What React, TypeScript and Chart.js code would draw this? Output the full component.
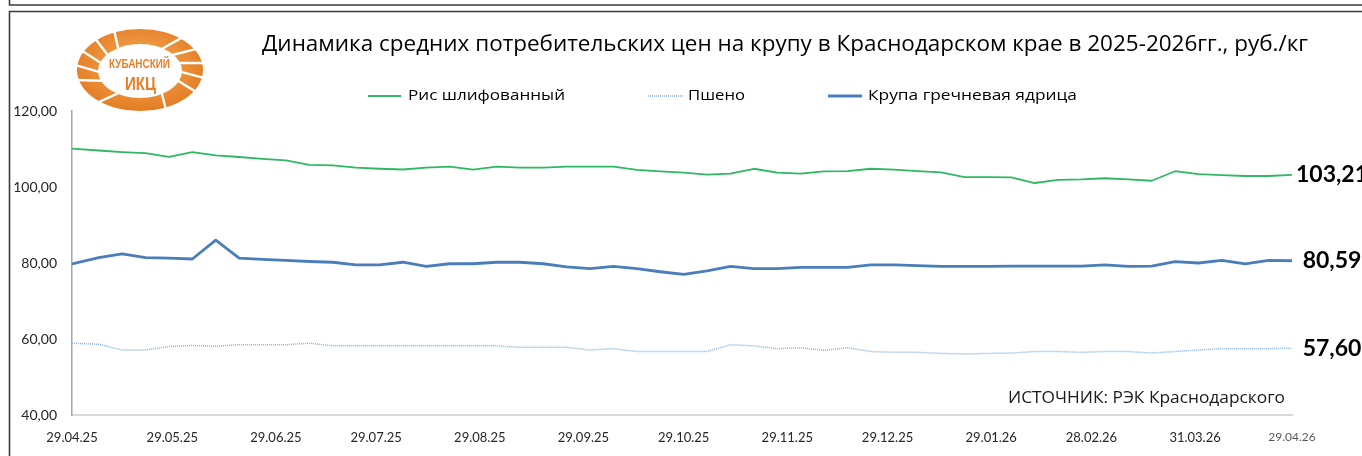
import React, { useEffect, useRef } from "react";
import { Chart, registerables } from "chart.js";

Chart.register(...registerables);

const TITLE = "Динамика средних потребительских цен на крупу в Краснодарском крае в 2025-2026гг., руб./кг";
const SOURCE = "ИСТОЧНИК: РЭК Краснодарского";
const seriesNames = ["Рис шлифованный", "Пшено", "Крупа гречневая ядрица"];

const pointDates = [
  "29.04.25", "07.05.25", "14.05.25", "21.05.25", "28.05.25",
  "04.06.25", "11.06.25", "18.06.25", "25.06.25",
  "02.07.25", "09.07.25", "16.07.25", "23.07.25", "30.07.25",
  "06.08.25", "13.08.25", "20.08.25", "27.08.25",
  "03.09.25", "10.09.25", "17.09.25", "24.09.25",
  "01.10.25", "08.10.25", "15.10.25", "22.10.25", "29.10.25",
  "05.11.25", "12.11.25", "19.11.25", "26.11.25",
  "03.12.25", "10.12.25", "17.12.25", "24.12.25", "31.12.25",
  "07.01.26", "14.01.26", "21.01.26", "28.01.26",
  "04.02.26", "11.02.26", "18.02.26", "25.02.26",
  "04.03.26", "11.03.26", "18.03.26", "25.03.26",
  "01.04.26", "08.04.26", "15.04.26", "22.04.26", "29.04.26",
];

const tickDates = [
  "29.04.25", "29.05.25", "29.06.25", "29.07.25", "29.08.25", "29.09.25", "29.10.25",
  "29.11.25", "29.12.25", "29.01.26", "28.02.26", "31.03.26", "29.04.26",
];

const yTicks = [40, 60, 80, 100, 120];

const riceValues = [
  110.1, 109.6, 109.2, 108.9, 107.9, 109.2, 108.3, 107.9, 107.4, 107.0,
  105.8, 105.7, 105.1, 104.8, 104.6, 105.1, 105.35, 104.6, 105.35, 105.1,
  105.1, 105.35, 105.35, 105.35, 104.5, 104.1, 103.8, 103.25, 103.5, 104.8,
  103.8, 103.5, 104.1, 104.2, 104.8, 104.55, 104.2, 103.85, 102.6, 102.6,
  102.55, 101.05, 101.9, 102.0, 102.3, 102.0, 101.65, 104.15, 103.4, 103.15,
  102.9, 102.9, 103.21,
];

const milletValues = [
  58.9, 58.6, 57.1, 57.1, 58.0, 58.3, 58.1, 58.5, 58.5, 58.5,
  58.9, 58.2, 58.2, 58.2, 58.2, 58.2, 58.2, 58.2, 58.2, 57.8,
  57.8, 57.8, 57.1, 57.45, 56.7, 56.7, 56.7, 56.7, 58.5, 58.2,
  57.45, 57.7, 57.0, 57.7, 56.7, 56.5, 56.5, 56.2, 56.05, 56.2,
  56.3, 56.7, 56.7, 56.5, 56.7, 56.7, 56.3, 56.7, 57.1, 57.45,
  57.45, 57.45, 57.6,
];

const buckwheatValues = [
  79.75, 81.4, 82.4, 81.4, 81.3, 81.05, 86.0, 81.3, 80.95, 80.7,
  80.4, 80.2, 79.5, 79.5, 80.2, 79.1, 79.8, 79.8, 80.2, 80.2,
  79.8, 79.0, 78.5, 79.1, 78.5, 77.7, 77.0, 77.9, 79.1, 78.5,
  78.5, 78.85, 78.85, 78.85, 79.5, 79.5, 79.3, 79.1, 79.1, 79.1,
  79.2, 79.2, 79.2, 79.2, 79.5, 79.1, 79.2, 80.35, 80.0, 80.7,
  79.75, 80.7, 80.59,
];

const colors = {
  rice: "#2EB863",
  millet: "#86B3DF",
  buckwheat: "#4A7EBB",
};

const SANS = "'Open Sans', 'Noto Sans', sans-serif";
const NUM = "Lato, 'Open Sans', sans-serif";

function dayOffset(s: string): number {
  const [d, m, y] = s.split(".").map(Number);
  return Math.round((Date.UTC(2000 + y, m - 1, d) - Date.UTC(2025, 3, 29)) / 86400000);
}

const tickDays = tickDates.map(dayOffset);
const labelByDay: Record<number, string> = {};
tickDates.forEach((t, i) => (labelByDay[tickDays[i]] = t));

function fmt(v: number): string {
  return v.toFixed(2).replace(".", ",");
}

function fitText(ctx: CanvasRenderingContext2D, text: string, x: number, y: number, width: number, font: string, color: string) {
  ctx.save();
  ctx.font = font;
  ctx.fillStyle = color;
  ctx.textAlign = "left";
  ctx.textBaseline = "middle";
  const w = ctx.measureText(text).width;
  ctx.translate(x, y);
  ctx.scale(width / w, 1);
  ctx.fillText(text, 0, 0);
  ctx.restore();
}

const decorPlugin = {
  id: "decor",
  beforeDraw(chart: any) {
    const ctx = chart.ctx as CanvasRenderingContext2D;
    ctx.save();
    ctx.fillStyle = "#ffffff";
    ctx.fillRect(0, 0, chart.width, chart.height);
    ctx.strokeStyle = "#3c3c3c";
    ctx.lineWidth = 1.6;
    ctx.beginPath();
    ctx.moveTo(9.5, 0);
    ctx.lineTo(9.5, 5);
    ctx.lineTo(chart.width, 5);
    ctx.moveTo(9.5, chart.height);
    ctx.lineTo(9.5, 11.5);
    ctx.lineTo(chart.width, 11.5);
    ctx.stroke();
    ctx.restore();
  },
  afterDraw(chart: any) {
    const ctx = chart.ctx as CanvasRenderingContext2D;
    fitText(ctx, TITLE, 262, 45, 1046, `21px ${SANS}`, "#000000");
    const legend = [
      { x0: 368, x1: 401, tx: 408, tw: 157, color: colors.rice, width: 1.8, dash: [] as number[] },
      { x0: 648, x1: 683, tx: 688, tw: 57, color: colors.millet, width: 1.5, dash: [1, 1] },
      { x0: 828, x1: 862, tx: 868, tw: 209, color: colors.buckwheat, width: 3, dash: [] as number[] },
    ];
    legend.forEach((l, i) => {
      ctx.save();
      ctx.strokeStyle = l.color;
      ctx.lineWidth = l.width;
      ctx.setLineDash(l.dash);
      ctx.beginPath();
      ctx.moveTo(l.x0, 96);
      ctx.lineTo(l.x1, 96);
      ctx.stroke();
      ctx.restore();
      fitText(ctx, seriesNames[i], l.tx, 96, l.tw, `15px ${SANS}`, "#000000");
    });
    fitText(ctx, SOURCE, 1008, 398, 277, `16px ${SANS}`, "#1a1a1a");
    chart.data.datasets.forEach((ds: any, i: number) => {
      const meta = chart.getDatasetMeta(i);
      const pts = meta.data;
      const last = pts[pts.length - 1];
      const val = ds.data[ds.data.length - 1].y;
      ctx.save();
      ctx.font = `bold 23px ${NUM}`;
      ctx.fillStyle = "#000000";
      ctx.textAlign = "center";
      ctx.textBaseline = "middle";
      ctx.fillText(fmt(val), last.x + 40, last.y);
      ctx.restore();
    });
  },
};

function Logo() {
  const cx = 140;
  const cy = 70;
  const rxO = 63, ryO = 41, rxI = 42, ryI = 27;
  const angles = [158, 178, 198, 218, 22, 2, -18, -38, -58, -122, 58, 122];
  return (
    <svg width={260} height={130} style={{ position: "absolute", left: 0, top: 0 }}>
      <defs>
        <radialGradient id="logoGrad" cx="50%" cy="45%" r="60%">
          <stop offset="0%" stopColor="#F7AE5E" />
          <stop offset="100%" stopColor="#E2781E" />
        </radialGradient>
      </defs>
      <ellipse cx={cx} cy={cy} rx={rxO} ry={ryO} fill="url(#logoGrad)" />
      <ellipse cx={cx} cy={cy + 1} rx={rxI} ry={ryI} fill="#ffffff" />
      {angles.map((a, i) => {
        const r = (a * Math.PI) / 180;
        const x1 = cx + (rxI - 1) * Math.cos(r);
        const y1 = cy + 1 + (ryI - 1) * Math.sin(r);
        const x2 = cx + (rxO + 2) * Math.cos(r + 0.15);
        const y2 = cy + (ryO + 2) * Math.sin(r + 0.15);
        return <line key={i} x1={x1} y1={y1} x2={x2} y2={y2} stroke="#ffffff" strokeWidth={2.4} />;
      })}
      <text x={109} y={68} fontFamily="'Liberation Sans', Arial, sans-serif" fontWeight="bold" fontSize={13}
        fill="#E8802A" textLength={61} lengthAdjust="spacingAndGlyphs">КУБАНСКИЙ</text>
      <text x={125} y={90} fontFamily="'Liberation Sans', Arial, sans-serif" fontWeight="bold" fontSize={18}
        fill="#E8802A" textLength={31} lengthAdjust="spacingAndGlyphs">ИКЦ</text>
    </svg>
  );
}

export default function App() {
  const canvasRef = useRef<HTMLCanvasElement | null>(null);

  useEffect(() => {
    const canvas = canvasRef.current;
    if (!canvas) return;
    const mk = (vals: number[]) => vals.map((v, i) => ({ x: dayOffset(pointDates[i]), y: v }));
    const chart = new Chart(canvas, {
      type: "line",
      data: {
        datasets: [
          {
            label: seriesNames[0],
            data: mk(riceValues),
            borderColor: colors.rice,
            borderWidth: 1.8,
            pointRadius: 0,
            tension: 0,
            borderJoinStyle: "round",
          },
          {
            label: seriesNames[1],
            data: mk(milletValues),
            borderColor: colors.millet,
            borderWidth: 1.5,
            borderDash: [1, 1],
            pointRadius: 0,
            tension: 0,
          },
          {
            label: seriesNames[2],
            data: mk(buckwheatValues),
            borderColor: colors.buckwheat,
            borderWidth: 2.8,
            pointRadius: 0,
            tension: 0,
            borderJoinStyle: "round",
          },
        ],
      },
      options: {
        responsive: false,
        animation: false,
        devicePixelRatio: 1,
        layout: { padding: { top: 111, right: 70, bottom: 0, left: 0 } },
        plugins: {
          legend: { display: false },
          title: { display: false },
          tooltip: { enabled: false },
        },
        scales: {
          x: {
            type: "linear",
            min: tickDays[0],
            max: tickDays[tickDays.length - 1],
            grid: { display: false, drawTicks: false },
            border: { display: true, color: "#D9D9D9", width: 2 },
            afterBuildTicks: (scale: any) => {
              scale.ticks = tickDays.map((v) => ({ value: v }));
            },
            afterFit: (scale: any) => {
              scale.height = 41;
            },
            ticks: {
              autoSkip: false,
              maxRotation: 0,
              minRotation: 0,
              padding: 15,
              color: (c: any) => (c.index === tickDays.length - 1 ? "#595959" : "#262626"),
              font: (c: any) => ({ family: NUM, size: c.index === tickDays.length - 1 ? 12 : 13 }),
              callback: (value: any) => labelByDay[value as number] ?? "",
            },
          },
          y: {
            type: "linear",
            min: yTicks[0],
            max: yTicks[yTicks.length - 1],
            grid: { display: false, drawTicks: false },
            border: { display: true, color: "#A6A6A6", width: 1.5 },
            afterBuildTicks: (scale: any) => {
              scale.ticks = yTicks.map((v) => ({ value: v }));
            },
            afterFit: (scale: any) => {
              scale.width = 72;
            },
            ticks: {
              padding: 15,
              color: "#262626",
              font: { family: NUM, size: 14 },
              callback: (value: any) => fmt(Number(value)),
            },
          },
        },
      },
      plugins: [decorPlugin],
    });
    return () => chart.destroy();
  }, []);

  return (
    <div style={{ position: "absolute", left: 0, top: 0, width: 1362, height: 456, overflow: "hidden", background: "#fff" }}>
      <canvas ref={canvasRef} width={1362} height={456} style={{ display: "block" }} />
      <Logo />
    </div>
  );
}
